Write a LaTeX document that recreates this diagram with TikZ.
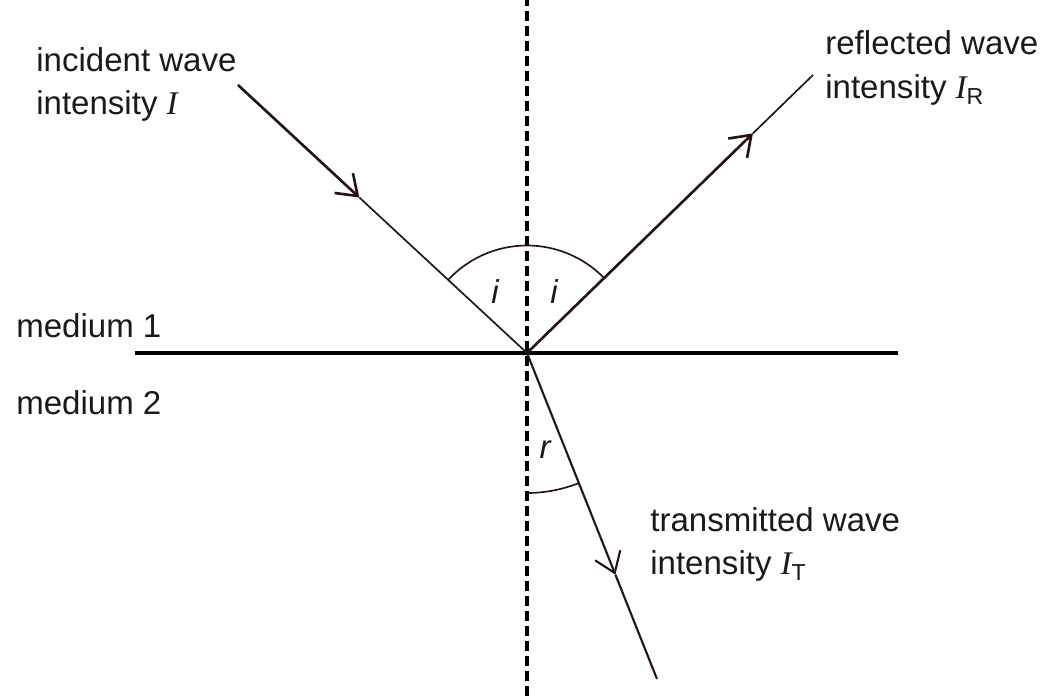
\documentclass[tikz,border=0pt]{standalone}
\usepackage{fontspec}
\setmainfont{Liberation Sans}
\newfontfamily\serifI{Liberation Serif}
\usetikzlibrary{arrows.meta, positioning, calc}
\definecolor{raydark}{RGB}{35,20,20}
\definecolor{txtdark}{RGB}{25,25,30}
\newcommand{\intI}{{\serifI\itshape I}}

\begin{document}
\begin{tikzpicture}[x=1cm, y=1cm,
  lbl/.style={font=\fontsize{18.8}{22}\selectfont, text=txtdark, inner sep=0pt, anchor=base west},
  anglbl/.style={font=\fontsize{18.8}{22}\selectfont\itshape, text=txtdark, inner sep=0pt},
  raythick/.style={raydark, line width=1.5pt},
  raythin/.style={raydark, line width=0.95pt},
  wavetip/.style={-{Straight Barb[length=0.38cm, width=0.54cm]}}
]
\useasboundingbox (0,0) rectangle (21.04,13.92);

% points
\coordinate (O) at (10.54,6.86);
\coordinate (inc) at (4.76,12.22);
\coordinate (refl) at (16.26,12.42);
\coordinate (trans) at (13.14,0.34);
\coordinate (incArr) at ($(inc)!0.42!(O)$);
\coordinate (reflArr) at ($(O)!0.79!(refl)$);
\coordinate (transArr) at ($(O)!0.68!(trans)$);
\coordinate (nTop) at (10.54,13.92);
\coordinate (nBot) at (10.54,0);
\coordinate (bL) at (2.70,6.86);
\coordinate (bR) at (17.96,6.86);

% normal and boundary
\draw[black, line width=2.1pt, dash pattern=on 0.2cm off 0.1cm] (nBot) -- (nTop);
\draw[black, line width=1.8pt] (bL) -- (bR);

% rays
\draw[raythick, wavetip] (inc) -- (incArr);
\draw[raythin] (incArr) -- (O);
\draw[raythick, wavetip] (O) -- (reflArr);
\draw[raythin] (reflArr) -- (refl);
\draw[raythick, line width=1.2pt, wavetip] (O) -- (transArr);
\draw[raythick, line width=1.2pt] (transArr) -- (trans);

% angle arcs
\draw[raythin] ($(O)+(137.2:2.15)$) arc (137.2:90:2.15);
\draw[raythin] ($(O)+(90:2.15)$) arc (90:44.2:2.15);
\draw[raythin] ($(O)+(270:2.8)$) arc (270:291.75:2.8);
\node[anglbl] (iL) at (9.90,8.08) {i};
\node[anglbl] (iR) at (11.08,8.08) {i};
\node[anglbl] (rT) at (10.90,4.92) {r};

% labels
\node[lbl] (incA) at (0.72,12.48) {incident wave};
\node[lbl] (incB) at ([yshift=-0.86cm]incA.base west) {intensity \intI};
\node[lbl] (refA) at (16.50,12.82) {reflected wave};
\node[lbl] (refB) at ([yshift=-0.88cm]refA.base west) {intensity \intI\textsubscript{R}};
\node[lbl] (medA) at (0.32,7.16) {medium 1};
\node[lbl] (medB) at (0.32,5.62) {medium 2};
\node[lbl] (traA) at (13.00,3.28) {transmitted wave};
\node[lbl] (traB) at ([yshift=-0.86cm]traA.base west) {intensity \intI\textsubscript{T}};
\end{tikzpicture}
\end{document}
